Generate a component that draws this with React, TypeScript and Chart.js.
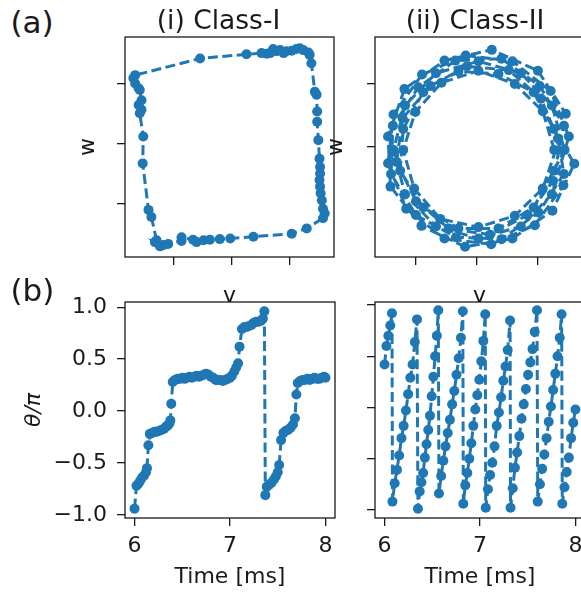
import React, { useEffect, useRef } from 'react';
import { Chart, registerables } from 'chart.js';

Chart.register(...registerables);

const BLUE = '#1f77b4';
const INK = '#1a1a1a';
const FONT = "'DejaVu Sans', sans-serif";

// ---------- (a)(i) Class-I phase portrait (v, w) ----------
const vClassI = [
  -1.24, -1.33, -1.18, -1.10, -0.87, -0.87, -0.67, -0.61, -0.49, -0.38, -0.21, -0.03, 0.37, 1.03, 1.29, 1.57,
  1.60, 1.57, 1.55, 1.53, 1.52, 1.51, 1.52, 1.52, 1.51, 1.49, 1.47, 1.47, 1.46, 1.43, 1.37, 1.34,
  1.32, 1.23, 1.17, 1.11, 1.03, 0.94, 0.89, 0.83, 0.77, 0.71, 0.66, 0.60, 0.51, 0.25, -0.55,
  -1.67, -1.70, -1.67, -1.61, -1.59, -1.56, -1.61, -1.56, -1.59, -1.53, -1.54, -1.44, -1.39, -1.30, -1.24,
];
const wClassI = [
  -1.72, -1.65, -1.70, -1.68, -1.63, -1.57, -1.61, -1.65, -1.62, -1.61, -1.60, -1.59, -1.56, -1.51, -1.42, -1.25,
  -1.17, -1.09, -0.95, -0.83, -0.72, -0.61, -0.50, -0.39, -0.25, 0.06, 0.37, 0.54, 0.82, 0.87, 1.35, 1.49,
  1.53, 1.57, 1.60, 1.59, 1.56, 1.55, 1.52, 1.57, 1.55, 1.59, 1.52, 1.51, 1.52, 1.50, 1.43,
  1.15, 1.10, 1.01, 0.93, 0.90, 0.73, 0.65, 0.57, 0.51, 0.12, -0.33, -1.11, -1.23, -1.62, -1.72,
];

// ---------- (a)(ii) Class-II phase portrait (v, w) ----------
const vClassII = [
  1.28, 1.09, 0.63, 0.03, -0.58, -1.01, -1.21, -1.03, -0.60, 0.03, 0.63, 1.09,
  1.44, 1.04, 0.41, -0.35, -0.96, -1.38, -1.41, -1.00, -0.34, 0.41, 1.02, 1.44,
  1.34, 1.06, 0.53, -0.16, -0.76, -1.22, -1.32, -1.00, -0.46, 0.22, 0.84, 1.26,
  1.47, 1.01, 0.25, -0.53, -1.19, -1.46, -1.42, -0.91, -0.19, 0.59, 1.25, 1.61,
  1.27, 0.94, 0.36, -0.30, -0.88, -1.21, -1.26, -0.88, -0.30, 0.36, 0.94, 1.27,
  1.45, 1.24, 0.73, 0.03, -0.67, -1.18, -1.37, -1.18, -0.67, 0.03, 0.73, 1.24,
  1.52, 1.22, 0.59, -0.18, -0.90, -1.37, -1.46, -1.16, -0.53, 0.24, 0.96, 1.43,
];
const wClassII = [
  -0.05, 0.56, 0.99, 1.20, 1.01, 0.55, -0.05, -0.66, -1.14, -1.27, -1.09, -0.66,
  0.33, 0.96, 1.39, 1.36, 0.94, 0.33, -0.43, -1.08, -1.43, -1.46, -1.04, -0.43,
  0.13, 0.76, 1.21, 1.27, 0.96, 0.45, -0.24, -0.86, -1.29, -1.39, -1.08, -0.54,
  0.52, 1.20, 1.53, 1.36, 0.91, 0.16, -0.63, -1.25, -1.58, -1.45, -1.01, -0.27,
  0.28, 0.86, 1.15, 1.19, 0.86, 0.28, -0.38, -0.96, -1.29, -1.29, -0.96, -0.38,
  -0.05, 0.65, 1.16, 1.35, 1.16, 0.65, -0.05, -0.75, -1.26, -1.45, -1.26, -0.75,
  0.16, 0.88, 1.35, 1.44, 1.14, 0.51, -0.26, -0.98, -1.45, -1.54, -1.24, -0.61,
];

// ---------- (b) phase theta/pi vs time, Class-I ----------
const timeClassI = [
  6.000, 6.020, 6.040, 6.060, 6.080, 6.100, 6.120, 6.130, 6.145, 6.160, 6.185, 6.210, 6.235, 6.260,
  6.285, 6.310, 6.330, 6.350, 6.365, 6.375, 6.385, 6.400,
  6.425, 6.450, 6.475, 6.500, 6.525, 6.550, 6.575, 6.600, 6.625, 6.650, 6.675, 6.700, 6.725, 6.750,
  6.775, 6.800, 6.825, 6.850, 6.875, 6.900, 6.925, 6.950, 6.975, 7.000, 7.020, 7.045, 7.065, 7.085,
  7.100, 7.125, 7.150, 7.175, 7.200, 7.225, 7.250, 7.275, 7.300, 7.325, 7.345, 7.360,
  7.370, 7.385, 7.410, 7.435, 7.460, 7.480, 7.500, 7.515, 7.535, 7.560, 7.585, 7.610, 7.635, 7.660,
  7.680, 7.695, 7.710, 7.735, 7.760, 7.785, 7.810, 7.835, 7.860, 7.885, 7.910, 7.935, 7.960, 7.985, 8.000,
];
const thetaClassI = [
  -0.94, -0.72, -0.70, -0.67, -0.64, -0.62, -0.59, -0.55, -0.33, -0.22, -0.21, -0.20, -0.20, -0.19,
  -0.18, -0.17, -0.15, -0.14, -0.12, -0.09, 0.07, 0.28,
  0.30, 0.31, 0.31, 0.32, 0.31, 0.32, 0.33, 0.32, 0.33, 0.34, 0.33, 0.34, 0.35, 0.36,
  0.35, 0.33, 0.32, 0.30, 0.30, 0.30, 0.29, 0.30, 0.31, 0.32, 0.34, 0.38, 0.42, 0.46,
  0.62, 0.79, 0.81, 0.81, 0.82, 0.83, 0.85, 0.86, 0.86, 0.87, 0.89, 0.96,
  -0.81, -0.73, -0.71, -0.69, -0.66, -0.63, -0.59, -0.52, -0.28, -0.21, -0.19, -0.18, -0.16, -0.13,
  -0.07, 0.16, 0.27, 0.29, 0.30, 0.30, 0.31, 0.30, 0.31, 0.32, 0.31, 0.31, 0.32, 0.33, 0.32,
];

// ---------- (b) phase theta/pi vs time, Class-II ----------
const timeClassII = [
  6.000, 6.020, 6.040, 6.060, 6.078,
  6.083, 6.106, 6.130, 6.153, 6.177, 6.200, 6.224, 6.247, 6.270, 6.294, 6.317, 6.340,
  6.350, 6.368, 6.386, 6.404, 6.422, 6.440, 6.458, 6.476, 6.494, 6.512, 6.530, 6.548, 6.563,
  6.570, 6.593, 6.616, 6.639, 6.662, 6.685, 6.708, 6.731, 6.754, 6.777, 6.800, 6.820,
  6.825, 6.846, 6.867, 6.888, 6.909, 6.930, 6.951, 6.972, 6.993, 7.014, 7.035, 7.055,
  7.060, 7.083, 7.106, 7.129, 7.152, 7.175, 7.198, 7.221, 7.244, 7.267, 7.290, 7.315,
  7.320, 7.343, 7.366, 7.389, 7.412, 7.435, 7.458, 7.481, 7.504, 7.527, 7.550, 7.573, 7.597,
  7.605, 7.628, 7.651, 7.674, 7.697, 7.720, 7.743, 7.766, 7.789, 7.812, 7.835, 7.855,
  7.862, 7.885, 7.908, 7.931, 7.954, 7.977, 8.000,
];
const thetaClassII = [
  0.42, 0.60, 0.70, 0.80, 0.92,
  -0.92, -0.74, -0.61, -0.47, -0.30, -0.18, -0.03, 0.13, 0.29, 0.42, 0.64, 0.86,
  -0.99, -0.82, -0.73, -0.64, -0.49, -0.36, -0.22, -0.08, 0.11, 0.30, 0.50, 0.70, 0.95,
  -0.84, -0.67, -0.52, -0.38, -0.25, -0.12, 0.03, 0.16, 0.32, 0.48, 0.68, 0.94,
  -0.94, -0.76, -0.64, -0.50, -0.35, -0.18, -0.02, 0.12, 0.27, 0.45, 0.65, 0.91,
  -0.98, -0.80, -0.66, -0.54, -0.38, -0.18, -0.05, 0.10, 0.26, 0.40, 0.56, 0.85,
  -0.98, -0.79, -0.59, -0.44, -0.28, -0.11, 0.03, 0.18, 0.32, 0.44, 0.57, 0.74, 0.95,
  -0.92, -0.75, -0.60, -0.46, -0.30, -0.14, 0.01, 0.17, 0.33, 0.50, 0.68, 0.91,
  -0.94, -0.78, -0.63, -0.49, -0.30, -0.15, -0.02,
];

// ---------- ticks & labels ----------
const phaseTicks = [-1, 0, 1];
const timeTicks = [6, 7, 8];
const thetaTicks = [-1, -0.5, 0, 0.5, 1];

const panelLetters = ['(a)', '(b)'];
const classTitles = ['(i) Class-I', '(ii) Class-II'];
const vLabel = 'v';
const wLabel = 'w';
const timeLabel = 'Time [ms]';
const thetaLabel = 'θ/π';

type Box = { left: number; top: number; width: number; height: number };
type Spec = {
  xs: number[];
  ys: number[];
  xMin: number; xMax: number; yMin: number; yMax: number;
  xTicks: number[]; yTicks: number[];
  xLabels: boolean; yLabels: boolean;
  xTitle: string; yTitle: string; yTitleItalic?: boolean;
  yAxisWidth: number; xAxisHeight: number;
  pad: { left: number; top: number; right: number; bottom: number };
  canvas: Box;
};

const framePlugin = {
  id: 'frame',
  afterDatasetsDraw(chart: any) {
    const { ctx, chartArea: a } = chart;
    ctx.save();
    ctx.strokeStyle = INK;
    ctx.lineWidth = 1.3;
    ctx.strokeRect(a.left, a.top, a.right - a.left, a.bottom - a.top);
    ctx.restore();
  },
};

const fmtTheta = (v: number) => v.toFixed(1).replace('-', '\u2212');

function Panel({ spec }: { spec: Spec }) {
  const ref = useRef<HTMLCanvasElement | null>(null);
  useEffect(() => {
    if (!ref.current) return;
    const tickFont = { family: FONT, size: 22 };
    const chart = new Chart(ref.current, {
      type: 'scatter',
      data: {
        datasets: [
          {
            data: spec.xs.map((x, i) => ({ x, y: spec.ys[i] })),
            showLine: true,
            borderColor: BLUE,
            backgroundColor: BLUE,
            borderWidth: 3,
            borderDash: [10, 4.5],
            pointRadius: 5,
            pointBorderWidth: 0,
            pointBackgroundColor: BLUE,
            tension: 0,
          } as any,
        ],
      },
      options: {
        animation: false,
        responsive: false,
        events: [],
        layout: { padding: spec.pad },
        plugins: {
          legend: { display: false },
          tooltip: { enabled: false },
          title: { display: false },
        },
        scales: {
          x: {
            type: 'linear',
            min: spec.xMin,
            max: spec.xMax,
            afterBuildTicks: (s: any) => {
              s.ticks = spec.xTicks.map((v) => ({ value: v }));
            },
            afterFit: (s: any) => {
              s.height = spec.xAxisHeight;
            },
            grid: { display: true, drawOnChartArea: false, drawTicks: true, tickLength: 8, color: INK, lineWidth: 1.3 },
            border: { display: false },
            ticks: {
              display: spec.xLabels,
              autoSkip: false,
              maxRotation: 0,
              padding: 7,
              color: INK,
              font: tickFont,
              callback: (v: any) => String(v),
            },
            title: {
              display: !!spec.xTitle,
              text: spec.xTitle,
              color: INK,
              padding: 0,
              font: { family: FONT, size: 22 },
            },
          },
          y: {
            type: 'linear',
            min: spec.yMin,
            max: spec.yMax,
            afterBuildTicks: (s: any) => {
              s.ticks = spec.yTicks.map((v) => ({ value: v }));
            },
            afterFit: (s: any) => {
              s.width = spec.yAxisWidth;
            },
            grid: { display: true, drawOnChartArea: false, drawTicks: true, tickLength: 8, color: INK, lineWidth: 1.3 },
            border: { display: false },
            ticks: {
              display: spec.yLabels,
              autoSkip: false,
              padding: 10,
              color: INK,
              font: tickFont,
              callback: (v: any) => fmtTheta(Number(v)),
            },
            title: {
              display: !!spec.yTitle,
              text: spec.yTitle,
              color: INK,
              padding: 0,
              font: { family: FONT, size: 22, style: spec.yTitleItalic ? 'italic' : 'normal' },
            },
          },
        },
      } as any,
      plugins: [framePlugin],
    });
    return () => chart.destroy();
  }, [spec]);
  const c = spec.canvas;
  return (
    <canvas
      ref={ref}
      width={c.width}
      height={c.height}
      style={{ position: 'absolute', left: c.left, top: c.top, width: c.width, height: c.height }}
    />
  );
}

const specs: Spec[] = [
  {
    xs: vClassI, ys: wClassI,
    xMin: -1.845, xMax: 1.76, yMin: -1.9, yMax: 1.79,
    xTicks: phaseTicks, yTicks: phaseTicks,
    xLabels: false, yLabels: false,
    xTitle: vLabel, yTitle: wLabel,
    yAxisWidth: 50, xAxisHeight: 52,
    pad: { left: 0, top: 15, right: 15, bottom: 0 },
    canvas: { left: 75, top: 22, width: 274, height: 287 },
  },
  {
    xs: vClassII, ys: wClassII,
    xMin: -1.675, xMax: 1.77, yMin: -1.742, yMax: 1.733,
    xTicks: phaseTicks, yTicks: phaseTicks,
    xLabels: false, yLabels: false,
    xTitle: vLabel, yTitle: wLabel,
    yAxisWidth: 52, xAxisHeight: 52,
    pad: { left: 0, top: 15, right: 15, bottom: 0 },
    canvas: { left: 323, top: 22, width: 276, height: 287 },
  },
  {
    xs: timeClassI, ys: thetaClassI,
    xMin: 5.9, xMax: 8.1, yMin: -1.03, yMax: 1.05,
    xTicks: timeTicks, yTicks: thetaTicks,
    xLabels: true, yLabels: true,
    xTitle: timeLabel, yTitle: thetaLabel, yTitleItalic: true,
    yAxisWidth: 104, xAxisHeight: 72,
    pad: { left: 0, top: 30, right: 15, bottom: 0 },
    canvas: { left: 21, top: 272, width: 329, height: 318 },
  },
  {
    xs: timeClassII, ys: thetaClassII,
    xMin: 5.9, xMax: 8.1, yMin: -1.08, yMax: 1.03,
    xTicks: timeTicks, yTicks: thetaTicks,
    xLabels: true, yLabels: false,
    xTitle: timeLabel, yTitle: '',
    yAxisWidth: 20, xAxisHeight: 72,
    pad: { left: 0, top: 30, right: 15, bottom: 0 },
    canvas: { left: 355, top: 272, width: 245, height: 318 },
  },
];

const textBase: React.CSSProperties = {
  position: 'absolute',
  fontFamily: FONT,
  color: INK,
  lineHeight: 1,
  whiteSpace: 'nowrap',
};

export default function App() {
  return (
    <div
      style={{
        position: 'absolute',
        left: 0,
        top: 0,
        width: 581,
        height: 595,
        overflow: 'hidden',
        background: '#ffffff',
      }}
    >
      {specs.map((s, i) => (
        <Panel key={i} spec={s} />
      ))}
      <div style={{ ...textBase, left: 10.5, top: 7, fontSize: 31 }}>{panelLetters[0]}</div>
      <div style={{ ...textBase, left: 10.5, top: 275, fontSize: 31 }}>{panelLetters[1]}</div>
      <div style={{ ...textBase, left: 118.5, top: 7, width: 200, textAlign: 'center', fontSize: 26.5 }}>
        {classTitles[0]}
      </div>
      <div style={{ ...textBase, left: 375, top: 7, width: 200, textAlign: 'center', fontSize: 26.5 }}>
        {classTitles[1]}
      </div>
    </div>
  );
}
